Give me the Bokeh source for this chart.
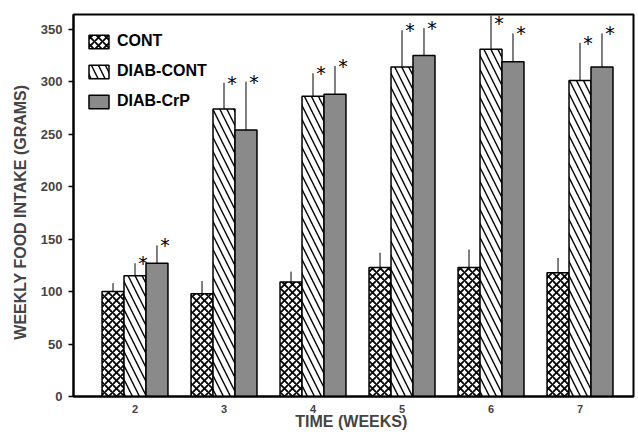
from bokeh.plotting import figure
from bokeh.models import ColumnDataSource, Legend, LegendItem, FixedTicker
from bokeh.embed import file_html
from bokeh.resources import INLINE
from bokeh.core.properties import value

weeks = [2, 3, 4, 5, 6, 7]
cont = [100, 98, 109, 123, 123, 118]
cont_err = [108, 110, 119, 137, 140, 132]
diab_cont = [115, 274, 286, 314, 331, 301]
diab_cont_err = [127, 299, 308, 349, 363, 337]
diab_crp = [127, 254, 288, 325, 319, 314]
diab_crp_err = [144, 300, 315, 351, 346, 346]
y_ticks = [0, 50, 100, 150, 200, 250, 300, 350]

FONT = "Liberation Sans"
W = 0.247
STAR_MAX = 356

p = figure(width=638, height=432, output_backend="svg", toolbar_location=None,
           x_range=(1.309, 7.601), y_range=(0, 364),
           min_border_left=73, min_border_right=5, min_border_top=14, min_border_bottom=33)
p.background_fill_color = "white"
p.border_fill_color = "white"
p.outline_line_color = "black"
p.outline_line_width = 2
p.xgrid.visible = False
p.ygrid.visible = False

series = [
    ("CONT", cont, cont_err, -W, dict(fill_color="white", hatch_pattern="diagonal_cross",
                                     hatch_scale=8, hatch_weight=1.8, hatch_color="black")),
    ("DIAB-CONT", diab_cont, diab_cont_err, 0.0, dict(fill_color="white", hatch_pattern="left_diagonal_line",
                                                   hatch_scale=14, hatch_weight=1.4, hatch_color="black")),
    ("DIAB-CrP", diab_crp, diab_crp_err, W, dict(fill_color="#8a8a8a")),
]

items = []
for name, vals, errs, off, style in series:
    xs = [w + off for w in weeks]
    src = ColumnDataSource(dict(x=xs, top=vals, err=errs))
    r = p.vbar(x="x", top="top", width=W, bottom=0, source=src,
               line_color="black", line_width=1.5, **style)
    p.segment(x0="x", y0="top", x1="x", y1="err", source=src, line_color="black", line_width=1)
    items.append(LegendItem(label=name, renderers=[r]))
    if name != "CONT":
        sx = [x + 0.09 for x in xs]
        sy = [min(e, STAR_MAX) for e in errs]
        ssrc = ColumnDataSource(dict(x=sx, y=sy))
        p.text(x="x", y="y", text=value("*"), source=ssrc, text_font=value("DejaVu Sans"),
               text_font_size="19px", text_align="center", text_baseline="middle",
               text_color="black")

legend = Legend(items=items, location="top_left", margin=13, padding=0,
                border_line_color=None, background_fill_alpha=0,
                glyph_width=25, glyph_height=17, label_height=28, spacing=2,
                label_standoff=6, label_text_font=FONT, label_text_font_style="bold",
                label_text_font_size="16px", label_text_color="black")
p.add_layout(legend)

p.yaxis.ticker = FixedTicker(ticks=y_ticks)
p.yaxis.axis_line_width = 2
p.yaxis.major_tick_out = 5
p.yaxis.major_tick_in = 0
p.yaxis.major_tick_line_width = 1.5
p.yaxis.minor_tick_line_color = None
p.yaxis.major_label_standoff = 6
p.yaxis.major_label_text_font = FONT
p.yaxis.major_label_text_font_style = "bold"
p.yaxis.major_label_text_font_size = "13px"
p.yaxis.axis_label = "WEEKLY  FOOD  INTAKE  (GRAMS)"
p.yaxis.axis_label_text_font = FONT
p.yaxis.axis_label_text_font_style = "bold"
p.yaxis.axis_label_text_font_size = "16px"
p.yaxis.axis_label_standoff = 9

p.xaxis.ticker = FixedTicker(ticks=weeks)
p.xaxis.axis_line_width = 2
p.xaxis.major_tick_line_color = None
p.xaxis.minor_tick_line_color = None
p.xaxis.major_label_standoff = 2
p.xaxis.major_label_text_font = FONT
p.xaxis.major_label_text_font_style = "bold"
p.xaxis.major_label_text_font_size = "11px"
p.xaxis.axis_label = "TIME  (WEEKS)"
p.xaxis.axis_label_standoff = -3
p.xaxis.axis_label_text_font = FONT
p.xaxis.axis_label_text_font_style = "bold"
p.xaxis.axis_label_text_font_size = "16px"

open("out.html", "w").write(file_html(p, INLINE))
